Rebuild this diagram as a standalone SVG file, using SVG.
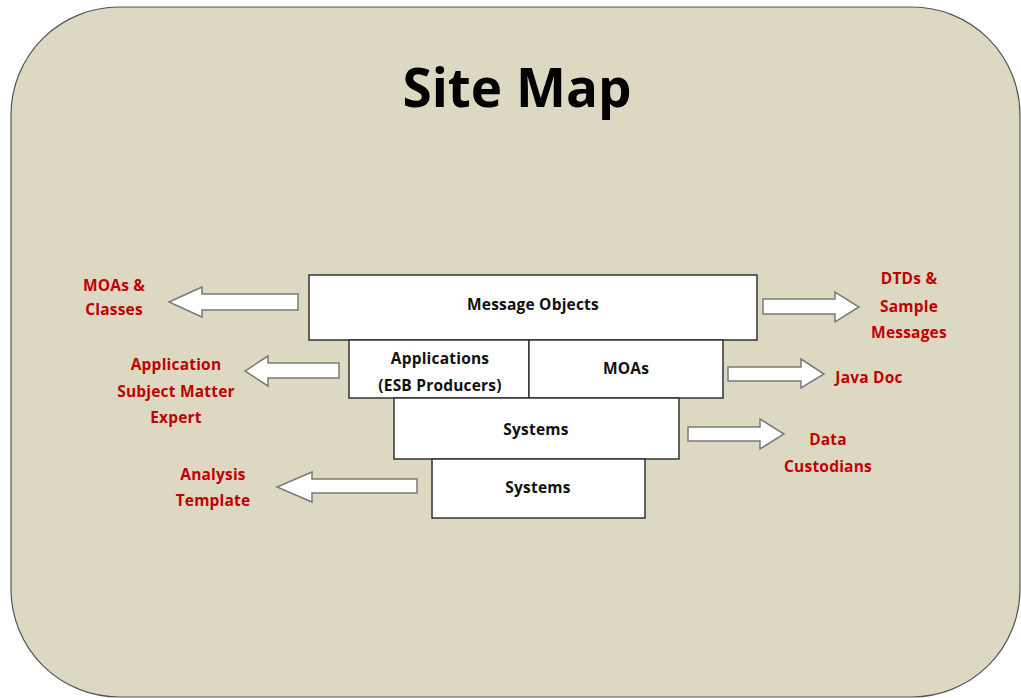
<svg xmlns="http://www.w3.org/2000/svg" width="1021" height="698" viewBox="0 0 1021 698">
<style>
.bg{fill:#DDD8C2;stroke:#555;stroke-width:1.2}
.box{fill:#fff;stroke:#333;stroke-width:1.5}
.arr{fill:#fff;stroke:#7a7a7a;stroke-width:1.5;stroke-linejoin:miter}
.bt{font-family:"Open Sans","Liberation Sans",sans-serif;font-weight:bold;font-size:15.5px;letter-spacing:0.2px;fill:#111;text-anchor:middle}
.lt{font-family:"Open Sans","Liberation Sans",sans-serif;font-weight:bold;font-size:15.5px;letter-spacing:0.2px;fill:#C00000;text-anchor:middle}
.title{font-family:"Open Sans","Liberation Sans",sans-serif;font-weight:bold;font-size:53px;fill:#000;text-anchor:middle}
</style>
<rect x="0" y="0" width="1021" height="698" fill="#fff"/>
<rect class="bg" x="11" y="7" width="1009" height="690" rx="108" ry="108"/>
<text class="title" x="517" y="107">Site Map</text>
<g id="connectors">
<polygon class="arr" points="298,294 202,294 202,287 169,302 202,317 202,310 298,310"/>
<polygon class="arr" points="339,363 268,363 268,356 245,371 268,386 268,378 339,378"/>
<polygon class="arr" points="417,479 312,479 312,472 277,487 312,502 312,493 417,493"/>
<polygon class="arr" points="763,299 835,299 835,292 859,307 835,322 835,314 763,314"/>
<polygon class="arr" points="728,367 801,367 801,359 824,374 801,388 801,381 728,381"/>
<polygon class="arr" points="688,427 760,427 760,419 784,434 760,449 760,441 688,441"/>
</g>
<g id="node-message-objects">
<rect class="box" x="309" y="275" width="448" height="65"/>
<text class="bt" x="533" y="310">Message Objects</text>
</g>
<g id="node-applications">
<rect class="box" x="349" y="340" width="180" height="58"/>
<text class="bt" x="440" y="364">Applications</text>
<text class="bt" x="440" y="391">(ESB Producers)</text>
</g>
<g id="node-moas">
<rect class="box" x="529" y="340" width="194" height="58"/>
<text class="bt" x="626" y="374">MOAs</text>
</g>
<g id="node-systems-1">
<rect class="box" x="394" y="398" width="285" height="61"/>
<text class="bt" x="536" y="435">Systems</text>
</g>
<g id="node-systems-2">
<rect class="box" x="432" y="459" width="213" height="59"/>
<text class="bt" x="538" y="493">Systems</text>
</g>
<g id="label-moas-classes">
<text class="lt" x="114" y="291">MOAs &amp;</text>
<text class="lt" x="114" y="315">Classes</text>
</g>
<g id="label-application-sme">
<text class="lt" x="176" y="370">Application</text>
<text class="lt" x="176" y="397">Subject Matter</text>
<text class="lt" x="176" y="423">Expert</text>
</g>
<g id="label-analysis-template">
<text class="lt" x="213" y="480">Analysis</text>
<text class="lt" x="213" y="506">Template</text>
</g>
<g id="label-dtds">
<text class="lt" x="909" y="284">DTDs &amp;</text>
<text class="lt" x="909" y="312">Sample</text>
<text class="lt" x="909" y="338">Messages</text>
</g>
<g id="label-javadoc">
<text class="lt" x="869" y="383">Java Doc</text>
</g>
<g id="label-data-custodians">
<text class="lt" x="828" y="445">Data</text>
<text class="lt" x="828" y="472">Custodians</text>
</g>
</svg>
